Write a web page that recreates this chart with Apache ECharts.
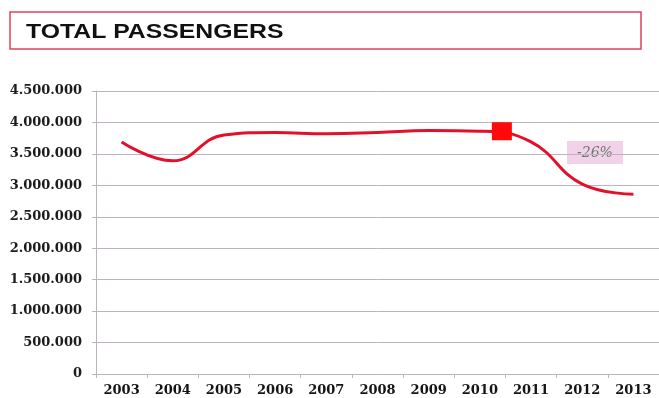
<!DOCTYPE html>
<html>
<head>
<meta charset="utf-8">
<title>Total passengers</title>
<script src="https://cdn.jsdelivr.net/npm/echarts@6/dist/echarts.min.js"></script>
<style>
  html, body { margin: 0; padding: 0; background: #ffffff; }
  #chart { width: 659px; height: 398px; }
</style>
</head>
<body>
<div id="chart"></div>
<script>
// Yearly passenger totals
const years = ['2003', '2004', '2005', '2006', '2007', '2008', '2009', '2010', '2011', '2012', '2013'];
const passengers = [3690000, 3390000, 3800000, 3840000, 3820000, 3840000, 3870000, 3860000, 3690000, 3020000, 2860000];
const yTicks = [0, 500000, 1000000, 1500000, 2000000, 2500000, 3000000, 3500000, 4000000, 4500000];

// Year that is highlighted and the change from it to the last year
const peakYear = '2010';
const peakValue = passengers[years.indexOf(peakYear)];
const lastValue = passengers[passengers.length - 1];
const changeText = Math.round((lastValue / peakValue - 1) * 100) + '%';

function dotted(n) {
  return String(n).replace(/\B(?=(\d{3})+(?!\d))/g, '.');
}

const gridColor = '#bdb2c0';
const labelFont = '"DejaVu Serif", serif';

const chart = echarts.init(document.getElementById('chart'), null, { renderer: 'canvas' });
chart.setOption({
  animation: false,
  backgroundColor: '#ffffff',
  grid: { left: 96, right: -4, top: 91, bottom: 24, containLabel: false },
  xAxis: {
    type: 'category',
    data: years,
    boundaryGap: true,
    axisLine: { show: true, lineStyle: { color: gridColor, width: 1 } },
    axisTick: { show: true, length: 4, alignWithLabel: false, lineStyle: { color: gridColor } },
    axisLabel: {
      margin: 10,
      fontFamily: labelFont,
      fontWeight: 'bold',
      fontSize: 13,
      color: '#151515'
    },
    splitLine: { show: false }
  },
  yAxis: {
    type: 'value',
    min: yTicks[0],
    max: yTicks[yTicks.length - 1],
    interval: yTicks[1] - yTicks[0],
    axisLine: { show: true, lineStyle: { color: gridColor, width: 1 } },
    axisTick: { show: true, length: 4, lineStyle: { color: gridColor } },
    axisLabel: {
      margin: 14,
      fontFamily: labelFont,
      fontWeight: 'bold',
      fontSize: 13,
      color: '#1c1c1c',
      formatter: v => dotted(v)
    },
    splitLine: { show: true, lineStyle: { color: gridColor, width: 1 } }
  },
  series: [{
    type: 'line',
    data: passengers,
    smooth: 0.45,
    showSymbol: false,
    symbol: 'none',
    lineStyle: { color: '#e3102c', width: 3 },
    markPoint: {
      silent: true,
      symbol: 'rect',
      symbolSize: [20, 18],
      symbolOffset: [22, 0],
      itemStyle: { color: '#ff0a0a' },
      label: { show: false },
      data: [{ coord: [peakYear, peakValue] }]
    }
  }],
  graphic: [
    {
      type: 'rect',
      shape: { x: 10, y: 12, width: 631, height: 37 },
      style: { fill: '#ffffff', stroke: '#e2405e', lineWidth: 1.5 }
    },
    {
      type: 'text',
      x: 26,
      y: 32,
      scaleX: 1.18,
      style: {
        text: 'TOTAL PASSENGERS',
        font: 'bold 21px "Liberation Sans", Arial, sans-serif',
        fill: '#111111',
        textAlign: 'left',
        textVerticalAlign: 'middle'
      }
    },
    {
      type: 'rect',
      shape: { x: 567, y: 141, width: 56, height: 23 },
      style: { fill: '#f2d2e8' }
    },
    {
      type: 'text',
      x: 595,
      y: 153,
      style: {
        text: changeText,
        font: 'italic 14px "DejaVu Serif", serif',
        fill: '#6f786f',
        textAlign: 'center',
        textVerticalAlign: 'middle'
      }
    }
  ]
});
</script>
</body>
</html>
